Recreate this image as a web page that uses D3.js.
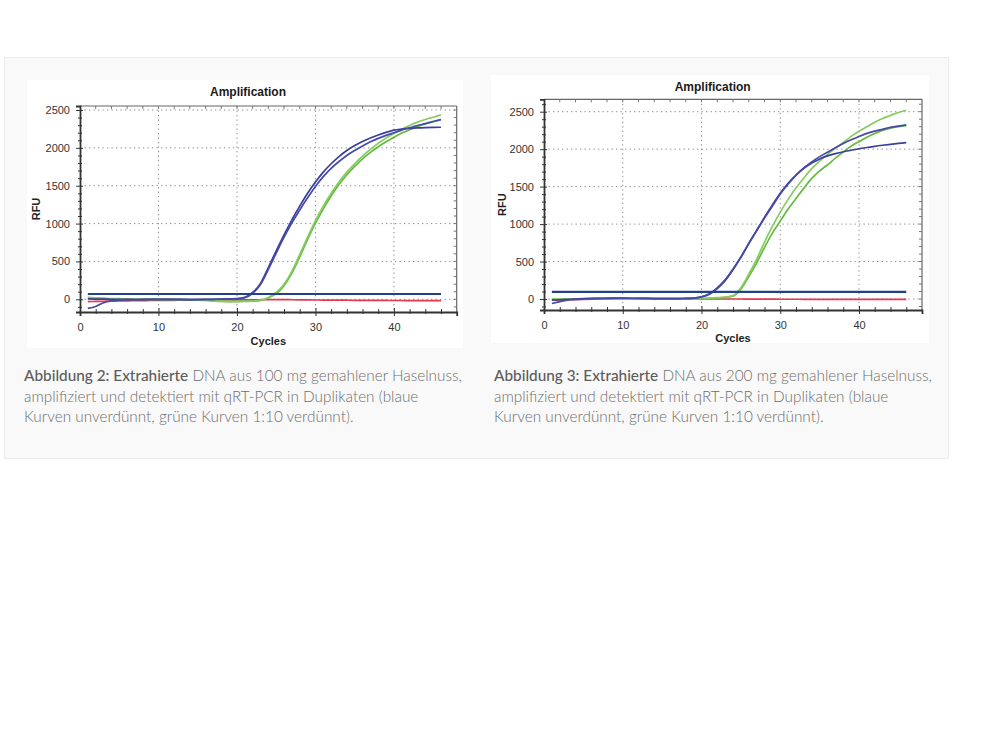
<!DOCTYPE html>
<html><head><meta charset="utf-8">
<script src="https://cdn.jsdelivr.net/npm/d3@7"></script>
<style>body{margin:0;background:#fff;} svg{display:block}</style>
</head><body>
<svg id="c" width="1000" height="750"></svg>
<script>
// ---------- data ----------
const cycles = [1,2,3,4,5,6,7,8,9,10,11,12,13,14,15,16,17,18,19,20,21,22,23,24,25,26,27,28,29,30,31,32,33,34,35,36,37,38,39,40,41,42,43,44,45,46];
const xTickValues = [0,10,20,30,40];
const yTickValues = [0,500,1000,1500,2000,2500];
const chartTitle = "Amplification";
const xAxisTitle = "Cycles";
const yAxisTitle = "RFU";

// Abbildung 2 (100 mg)
const leftBlue1 = [-120,-95,-45,-20,-10,-5,-3,-2,0,0,0,-2,-3,-3,-2,0,0,2,3,5,20,80,195,395,610,820,1010,1180,1340,1490,1620,1730,1820,1900,1965,2025,2080,2125,2165,2200,2235,2265,2295,2320,2348,2375];
const leftBlue2 = [5,3,2,0,0,-2,-3,-3,-2,0,0,0,-2,-3,-3,-2,0,2,5,8,25,90,210,420,640,850,1050,1230,1400,1550,1680,1790,1885,1965,2030,2085,2130,2170,2205,2235,2248,2257,2263,2267,2270,2272];
const leftGreen1 = [25,20,15,10,8,5,3,2,0,0,-2,-3,-5,-5,-8,-12,-20,-25,-28,-28,-26,-22,-12,25,90,200,370,590,820,1040,1230,1400,1550,1680,1790,1890,1980,2060,2130,2190,2245,2295,2340,2375,2405,2435];
const leftGreen2 = [15,12,8,5,3,2,0,0,-2,-3,-3,-5,-5,-6,-10,-15,-22,-28,-30,-30,-28,-25,-15,18,75,180,345,560,790,1005,1195,1365,1515,1645,1755,1855,1940,2015,2080,2140,2195,2240,2280,2315,2345,2370];
const leftRed = [-30,-28,-26,-24,-22,-20,-18,-17,-16,-15,-14,-13,-12,-11,-10,-10,-9,-9,-8,-8,-8,-7,-6,-5,-5,-5,-6,-7,-8,-9,-10,-10,-11,-12,-13,-13,-14,-15,-15,-16,-16,-17,-17,-18,-18,-18];
const leftThreshold = 70;

// Abbildung 3 (200 mg)
const rightBlue1 = [-60,-35,-15,-5,0,3,5,8,10,10,10,8,8,6,5,5,5,8,12,30,70,150,255,400,560,740,910,1080,1240,1400,1535,1650,1750,1830,1900,1960,2020,2075,2125,2170,2210,2240,2265,2290,2308,2323];
const rightBlue2 = [-15,-10,-5,0,5,8,10,10,12,12,10,10,8,6,5,5,5,8,12,28,65,140,245,390,555,740,915,1090,1255,1410,1545,1655,1745,1815,1870,1910,1940,1965,1985,2005,2022,2038,2052,2065,2077,2087];
const rightGreen1 = [0,0,2,3,3,5,5,5,5,3,3,2,2,0,0,0,2,3,5,8,12,18,25,45,150,330,530,760,970,1160,1330,1480,1615,1740,1840,1930,2010,2090,2170,2240,2300,2360,2410,2450,2490,2520];
const rightGreen2 = [-5,-3,0,2,3,3,5,5,3,3,2,2,0,0,0,0,2,3,5,6,10,15,22,38,130,300,480,690,880,1040,1200,1340,1480,1610,1710,1790,1880,1960,2040,2100,2160,2210,2250,2280,2300,2315];
const rightRed = [-15,-12,-10,-8,-5,-3,-2,0,2,3,3,4,5,5,5,5,5,5,4,3,2,2,0,0,0,-1,-1,-2,-2,-3,-3,-3,-4,-4,-4,-5,-5,-5,-5,-5,-6,-6,-6,-6,-6,-6];
const rightThreshold = 95;

const captionLeft = [
  [["Abbildung 2: Extrahierte", true], [" DNA aus 100 mg gemahlener Haselnuss,", false]],
  [["amplifiziert und detektiert mit qRT-PCR in Duplikaten (blaue", false]],
  [["Kurven unverdünnt, grüne Kurven 1:10 verdünnt).", false]]
];
const captionRight = [
  [["Abbildung 3: Extrahierte", true], [" DNA aus 200 mg gemahlener Haselnuss,", false]],
  [["amplifiziert und detektiert mit qRT-PCR in Duplikaten (blaue", false]],
  [["Kurven unverdünnt, grüne Kurven 1:10 verdünnt).", false]]
];

// ---------- drawing ----------
const svg = d3.select('#c');
svg.append('rect').attr('x',4.5).attr('y',57.5).attr('width',944).attr('height',401)
  .attr('fill','#f9f9f9').attr('stroke','#ececec');

const colors = {blue1:'#4649a8', blue2:'#3a3e9e', green1:'#86cc5e', green2:'#62bb3c', red:'#e6384f', thr:'#22418a'};

function drawChart(cfg) {
  const g = svg.append('g');
  g.append('rect').attr('x',cfg.card[0]).attr('y',cfg.card[1]).attr('width',cfg.card[2]).attr('height',cfg.card[3]).attr('fill','#fff');
  const x = d3.scaleLinear().domain([0,48]).range([cfg.l, cfg.r]);
  const y = d3.scaleLinear().domain(cfg.yDom).range([cfg.b, cfg.t]);
  const id = 'clip' + cfg.name;
  svg.append('clipPath').attr('id', id).append('rect').attr('x',cfg.l).attr('y',cfg.t).attr('width',cfg.r-cfg.l).attr('height',cfg.b-cfg.t);

  // grid
  g.append('g').selectAll('line').data(yTickValues).join('line')
    .attr('x1',cfg.l).attr('x2',cfg.r).attr('y1',d=>y(d)).attr('y2',d=>y(d))
    .attr('stroke','#8a8a8a').attr('stroke-width',1).attr('stroke-dasharray','1.3,3.2');
  g.append('g').selectAll('line').data(xTickValues.filter(d=>d>0)).join('line')
    .attr('y1',cfg.t).attr('y2',cfg.b).attr('x1',d=>x(d)).attr('x2',d=>x(d))
    .attr('stroke','#8a8a8a').attr('stroke-width',1).attr('stroke-dasharray','1.3,3.2');

  // curves
  const line = d3.line().x((d,i)=>x(cycles[i])).y(d=>y(d)).curve(d3.curveMonotoneX);
  const cg = g.append('g').attr('clip-path',`url(#${id})`);
  const series = [[cfg.red,colors.red],[cfg.green2,colors.green2],[cfg.green1,colors.green1],[cfg.blue2,colors.blue2],[cfg.blue1,colors.blue1]];
  series.forEach(([vals,col])=>{
    cg.append('path').attr('d',line(vals)).attr('fill','none').attr('stroke',col).attr('stroke-width',1.7);
  });
  cg.append('line').attr('x1',x(cycles[0])).attr('x2',x(cycles[cycles.length-1]))
    .attr('y1',y(cfg.thr)).attr('y2',y(cfg.thr)).attr('stroke',colors.thr).attr('stroke-width',2.2);

  // frame top/right
  g.append('line').attr('x1',cfg.l).attr('x2',cfg.r).attr('y1',cfg.t).attr('y2',cfg.t).attr('stroke','#666').attr('stroke-width',1.2);
  g.append('line').attr('x1',cfg.r).attr('x2',cfg.r).attr('y1',cfg.t).attr('y2',cfg.b).attr('stroke','#666').attr('stroke-width',1.2);
  // inner ticks top / right
  const minorX = d3.range(2,48,2);
  const minorY = d3.range(-100,cfg.yDom[1],100);
  g.append('g').selectAll('line').data(minorX).join('line')
    .attr('x1',d=>x(d)).attr('x2',d=>x(d)).attr('y1',cfg.t).attr('y2',cfg.t+3).attr('stroke','#777');
  g.append('g').selectAll('line').data(minorY).join('line')
    .attr('x1',cfg.r-3).attr('x2',cfg.r).attr('y1',d=>y(d)).attr('y2',d=>y(d)).attr('stroke','#777');

  // y axis
  const ya = g.append('g').attr('transform',`translate(${cfg.l},0)`)
    .call(d3.axisLeft(y).tickValues(yTickValues).tickFormat(d3.format('d')).tickSize(4).tickPadding(6));
  ya.select('.domain').attr('stroke','#333').attr('stroke-width',1.8);
  ya.selectAll('.tick line').attr('x2',-4).attr('x1',3).attr('stroke','#333');
  ya.selectAll('text').attr('font-family','Liberation Sans, Arial, sans-serif').attr('font-size',11).attr('fill','#333');
  const ym = g.append('g').attr('transform',`translate(${cfg.l},0)`)
    .call(d3.axisLeft(y).tickValues(minorY.filter(v=>v%500!==0)).tickFormat('').tickSize(2));
  ym.select('.domain').remove();
  ym.selectAll('.tick line').attr('x1',2).attr('x2',-2).attr('stroke','#333');

  // x axis
  const xa = g.append('g').attr('transform',`translate(0,${cfg.b})`)
    .call(d3.axisBottom(x).tickValues(xTickValues).tickFormat(d3.format('d')).tickSize(4).tickPadding(7));
  xa.select('.domain').attr('stroke','#333').attr('stroke-width',1.8);
  xa.selectAll('.tick line').attr('y1',-4).attr('y2',4).attr('stroke','#333');
  xa.selectAll('text').attr('font-family','Liberation Sans, Arial, sans-serif').attr('font-size',11).attr('fill','#333');
  const xm = g.append('g').attr('transform',`translate(0,${cfg.b})`)
    .call(d3.axisBottom(x).tickValues(minorX.filter(v=>v%10!==0)).tickFormat('').tickSize(2));
  xm.select('.domain').remove();
  xm.selectAll('.tick line').attr('y1',-3).attr('y2',2).attr('stroke','#333');

  // titles
  const ff = 'Liberation Sans, Arial, sans-serif';
  g.append('text').attr('x',cfg.titleX).attr('y',cfg.titleY).attr('text-anchor','middle')
    .attr('font-family',ff).attr('font-weight','bold').attr('font-size',12).attr('fill','#1a1a1a').text(chartTitle);
  g.append('text').attr('x',(cfg.l+cfg.r)/2).attr('y',cfg.xtY).attr('text-anchor','middle')
    .attr('font-family',ff).attr('font-weight','bold').attr('font-size',11).attr('fill','#222').text(xAxisTitle);
  g.append('text').attr('transform',`translate(${cfg.ytX},${(cfg.t+cfg.b)/2}) rotate(-90)`).attr('text-anchor','middle')
    .attr('font-family',ff).attr('font-weight','bold').attr('font-size',11).attr('fill','#222').text(yAxisTitle);
}

drawChart({name:'L', card:[27,80,436,268], l:80, r:456.7, t:106, b:312, yDom:[-167.7,2552.8],
  blue1:leftBlue1, blue2:leftBlue2, green1:leftGreen1, green2:leftGreen2, red:leftRed, thr:leftThreshold,
  titleX:248, titleY:96, xtY:345, ytX:40});
drawChart({name:'R', card:[491,75,438,268], l:544, r:922, t:99.3, b:310, yDom:[-146.8,2665.5],
  blue1:rightBlue1, blue2:rightBlue2, green1:rightGreen1, green2:rightGreen2, red:rightRed, thr:rightThreshold,
  titleX:712.7, titleY:91, xtY:342, ytX:506});

// captions
function caption(lines, x0, baselines, targetW) {
  const g = svg.append('g');
  const texts = lines.map((parts,i)=>{
    const t = g.append('text').attr('x',x0).attr('y',baselines[i])
      .attr('font-family','Lato, Open Sans, sans-serif').attr('font-size',14);
    parts.forEach(([s,b])=>{
      t.append('tspan').attr('font-weight', b ? 500 : 300).attr('fill', b ? '#5c5c5c' : '#6e6e6e').text(s);
    });
    return t;
  });
  const w = texts[0].node().getComputedTextLength();
  const fs = 14 * targetW / w;
  texts.forEach(t=>t.attr('font-size',fs));
}
caption(captionLeft, 24, [381,401.5,421.5], 438);
caption(captionRight, 494, [381,401.5,421.5], 438);
</script>
</body></html>
